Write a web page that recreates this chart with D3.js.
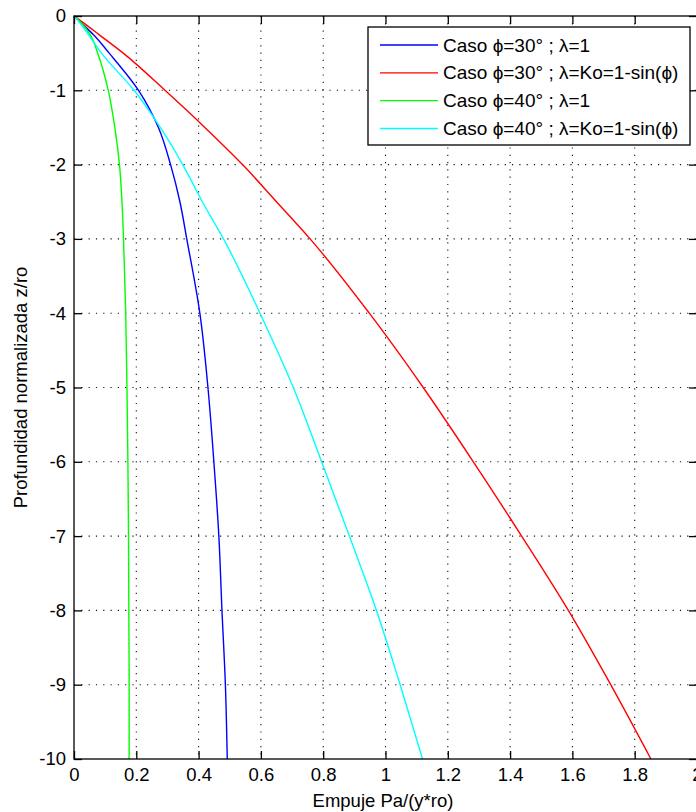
<!DOCTYPE html>
<html>
<head>
<meta charset="utf-8">
<script src="https://cdn.jsdelivr.net/npm/d3@7"></script>
<style>
  html, body { margin: 0; padding: 0; background: #fff; overflow: hidden; }
  svg { display: block; }
  text { font-family: "Liberation Sans", Arial, sans-serif; fill: #000; }
</style>
</head>
<body>
<svg id="chart" width="696" height="812"></svg>
<script>
// ---- data ----
const depths = [0, -0.1, -0.25, -0.5, -1, -1.5, -2, -2.5, -3, -4, -5, -6, -7, -8, -9, -10];
const blueVals  = [0, 0.025, 0.062, 0.113, 0.207, 0.271, 0.310, 0.340, 0.362, 0.404, 0.430, 0.449, 0.465, 0.475, 0.486, 0.492];
const redVals   = [0, 0.033, 0.080, 0.158, 0.292, 0.420, 0.541, 0.650, 0.758, 0.948, 1.121, 1.282, 1.437, 1.587, 1.723, 1.852];
const greenVals = [0, 0.025, 0.052, 0.076, 0.110, 0.131, 0.146, 0.154, 0.159, 0.166, 0.170, 0.173, 0.175, 0.176, 0.177, 0.177];
const cyanVals  = [0, 0.020, 0.046, 0.088, 0.193, 0.277, 0.349, 0.412, 0.480, 0.597, 0.704, 0.795, 0.884, 0.971, 1.047, 1.119];
const seriesNames = [
  "Caso \u03D5=30° ; \u03BB=1",
  "Caso \u03D5=30° ; \u03BB=Ko=1-sin(\u03D5)",
  "Caso \u03D5=40° ; \u03BB=1",
  "Caso \u03D5=40° ; \u03BB=Ko=1-sin(\u03D5)"
];
const seriesColors = ["#0000ff", "#ff0000", "#00ff00", "#00ffff"];
const xTicks = [0, 0.2, 0.4, 0.6, 0.8, 1, 1.2, 1.4, 1.6, 1.8, 2];
const yTicks = [0, -1, -2, -3, -4, -5, -6, -7, -8, -9, -10];
const xLabel = "Empuje Pa/(y*ro)";
const yLabel = "Profundidad normalizada z/ro";

const seriesVals = [blueVals, redVals, greenVals, cyanVals];

// ---- layout ----
const L = 74, R = 697, T = 16, B = 759;
const FS = 18.5;
const svg = d3.select("#chart");
const x = d3.scaleLinear().domain([0, 2]).range([L, R]);
const y = d3.scaleLinear().domain([-10, 0]).range([B, T]);

// grid
const grid = svg.append("g");
grid.selectAll("line.gx").data(xTicks.slice(1, -1)).enter().append("line")
  .attr("x1", d => x(d)).attr("x2", d => x(d)).attr("y1", T).attr("y2", B)
  .attr("stroke", "#111").attr("stroke-width", 1.1).attr("stroke-dasharray", "1.2,6.1");
grid.selectAll("line.gy").data(yTicks.slice(1, -1)).enter().append("line")
  .attr("y1", d => y(d)).attr("y2", d => y(d)).attr("x1", L).attr("x2", R)
  .attr("stroke", "#111").attr("stroke-width", 1.1).attr("stroke-dasharray", "1.2,6.1");

// curves
const line = d3.line()
  .x(d => x(d[0])).y(d => y(d[1]))
  .curve(d3.curveMonotoneY);
seriesVals.forEach((vals, i) => {
  const pts = vals.map((v, k) => [v, depths[k]]);
  svg.append("path").datum(pts)
    .attr("d", line).attr("fill", "none")
    .attr("stroke", seriesColors[i]).attr("stroke-width", 1.4);
});

// axes (MATLAB box with inner ticks)
const tickLen = 8;
const axB = d3.axisBottom(x).tickValues(xTicks).tickSize(-tickLen).tickPadding(9)
  .tickFormat(d => String(+d.toFixed(1)));
const axT = d3.axisTop(x).tickValues(xTicks).tickSize(-tickLen).tickFormat("");
const axLft = d3.axisLeft(y).tickValues(yTicks).tickSize(-tickLen).tickPadding(8)
  .tickFormat(d => String(d));
const axRgt = d3.axisRight(y).tickValues(yTicks).tickSize(-tickLen).tickFormat("");

function styleAxis(g) {
  g.select(".domain").remove();
  g.selectAll(".tick line").attr("stroke", "#000").attr("stroke-width", 1.3);
  g.selectAll(".tick text").attr("font-size", FS).attr("font-family", "'Liberation Sans', Arial, sans-serif").attr("fill", "#000");
}
svg.append("g").attr("transform", `translate(0,${B})`).call(axB).call(styleAxis);
svg.append("g").attr("transform", `translate(0,${T})`).call(axT).call(styleAxis);
svg.append("g").attr("transform", `translate(${L},0)`).call(axLft).call(styleAxis);
svg.append("g").attr("transform", `translate(${R},0)`).call(axRgt).call(styleAxis);

svg.append("rect").attr("x", L).attr("y", T).attr("width", R - L).attr("height", B - T)
  .attr("fill", "none").attr("stroke", "#000").attr("stroke-width", 1.3);

// labels
svg.append("text").attr("x", 383).attr("y", 807).attr("text-anchor", "middle")
  .attr("font-size", FS).text(xLabel);
svg.append("text").attr("transform", `translate(27,${(T + B) / 2}) rotate(-90)`)
  .attr("text-anchor", "middle").attr("font-size", FS).text(yLabel);

// legend
const lg = svg.append("g");
const lgX = 368, lgY = 27, lgW = 322, lgH = 118;
lg.append("rect").attr("x", lgX).attr("y", lgY).attr("width", lgW).attr("height", lgH)
  .attr("fill", "#fff").attr("stroke", "#000").attr("stroke-width", 1.3);
const rowY = d3.scaleLinear().domain([0, 3]).range([45, 128.5]);
seriesNames.forEach((name, i) => {
  const yy = rowY(i);
  lg.append("line").attr("x1", 380).attr("x2", 438).attr("y1", yy).attr("y2", yy)
    .attr("stroke", seriesColors[i]).attr("stroke-width", 1.4);
  lg.append("text").attr("x", 443).attr("y", yy).attr("dy", "0.35em")
    .attr("font-size", 19).text(name);
});
</script>
</body>
</html>
